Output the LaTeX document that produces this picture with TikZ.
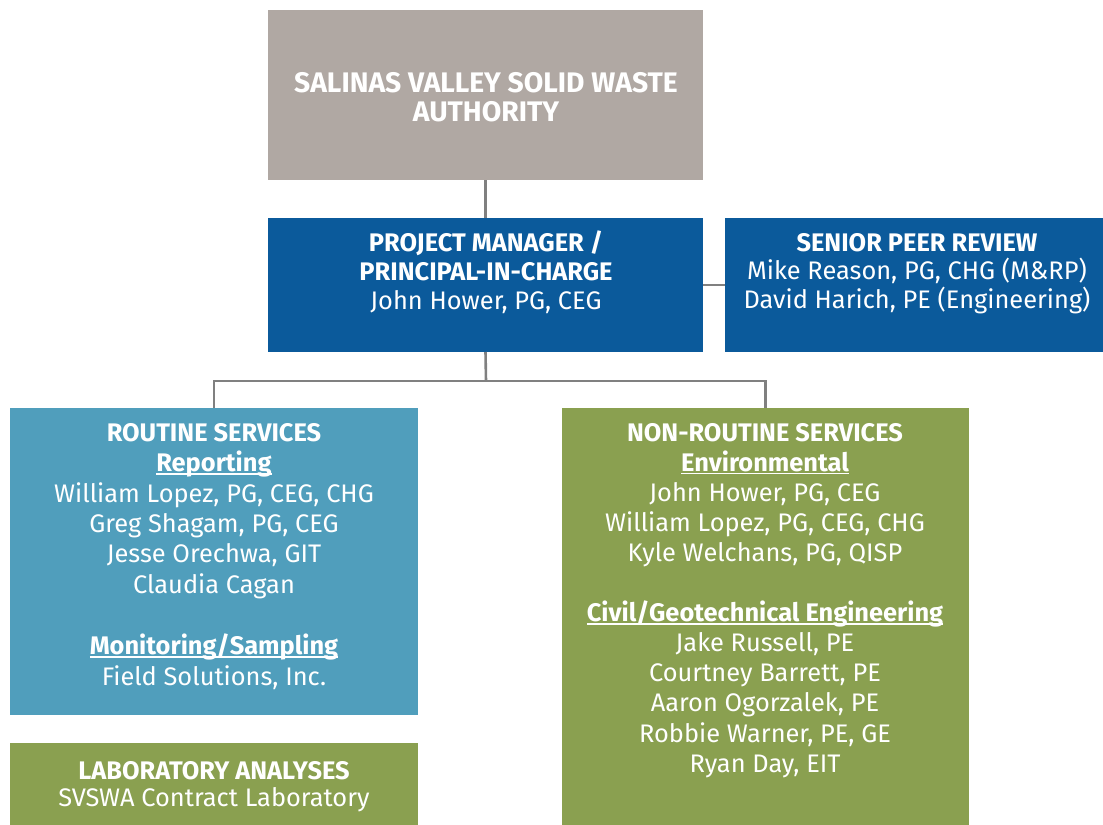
\documentclass[tikz,border=0pt]{standalone}
\usepackage{fontspec}
\setmainfont{Fira Sans}
\definecolor{authgray}{RGB}{176,168,163}
\definecolor{pmblue}{RGB}{11,90,155}
\definecolor{routineteal}{RGB}{80,158,188}
\definecolor{servgreen}{RGB}{138,160,80}
\definecolor{linkgray}{RGB}{128,128,128}
% underlined sub-heading
\newcommand\subhead[1]{\setbox0\hbox{\bfseries #1}\rlap{\rule[-3bp]{\wd0}{1.6bp}}\box0}
\begin{document}
\begin{tikzpicture}[x=1bp,y=-1bp,
  box/.style={draw=none, inner sep=0, outer sep=0, anchor=north west},
  label/.style={text=white, inner sep=0, outer sep=0, anchor=north, align=center,
    font=\fontsize{25.5}{30}\selectfont},
  link/.style={draw=linkgray, line width=2.6bp}]
\useasboundingbox (0,0) rectangle (1103,825);

% boxes
\node[box, fill=authgray, minimum width=435bp, minimum height=170bp] (auth) at (268,10) {};
\node[box, fill=pmblue, minimum width=435bp, minimum height=134bp] (pm) at (268,218) {};
\node[box, fill=pmblue, minimum width=378bp, minimum height=134bp] (spr) at (725,218) {};
\node[box, fill=routineteal, minimum width=408bp, minimum height=307bp] (rout) at (10,408) {};
\node[box, fill=servgreen, minimum width=408bp, minimum height=82bp] (lab) at (10,743) {};
\node[box, fill=servgreen, minimum width=407bp, minimum height=417bp] (nonrout) at (562,408) {};

% connectors
\coordinate (bus) at (486,381);
\draw[link] (auth.south) -- (pm.north);
\draw[link] (pm.east) -- (spr.west);
\draw[link] (pm.south) -- (bus);
\draw[link] (bus) -| (rout.north);
\draw[link] (bus) -| (nonrout.north);

% texts
\node[label, font=\fontsize{28.4}{29.5}\selectfont] (authtxt) at (486,72)
  {\bfseries SALINAS VALLEY SOLID WASTE\\\bfseries AUTHORITY};
\node[label, font=\fontsize{25.5}{29}\selectfont] (pmtxt) at (486,231)
  {\bfseries PROJECT MANAGER /\\\bfseries PRINCIPAL-IN-CHARGE\\John Hower, PG, CEG};
\node[label, font=\fontsize{25.5}{29}\selectfont] (sprtxt) at (917,233)
  {\bfseries SENIOR PEER REVIEW\\Mike Reason, PG, CHG (M\&RP)\\David Harich, PE (Engineering)};
\node[label, font=\fontsize{25.5}{30.6}\selectfont] (routtxt) at (214,423)
  {\bfseries ROUTINE SERVICES\\\subhead{Reporting}\\William Lopez, PG, CEG, CHG\\Greg Shagam, PG, CEG\\
   Jesse Orechwa, GIT\\Claudia Cagan\\[30.6bp]\subhead{Monitoring/Sampling}\\Field Solutions, Inc.};
\node[label, font=\fontsize{25.5}{28}\selectfont] (labtxt) at (214,761)
  {\bfseries LABORATORY ANALYSES\\SVSWA Contract Laboratory};
\node[label, font=\fontsize{25.5}{30.2}\selectfont] (nonrouttxt) at (765,423)
  {\bfseries NON-ROUTINE SERVICES\\\subhead{Environmental}\\John Hower, PG, CEG\\William Lopez, PG, CEG, CHG\\
   Kyle Welchans, PG, QISP\\[30.2bp]\subhead{Civil/Geotechnical Engineering}\\Jake Russell, PE\\
   Courtney Barrett, PE\\Aaron Ogorzalek, PE\\Robbie Warner, PE, GE\\Ryan Day, EIT};
\end{tikzpicture}
\end{document}
